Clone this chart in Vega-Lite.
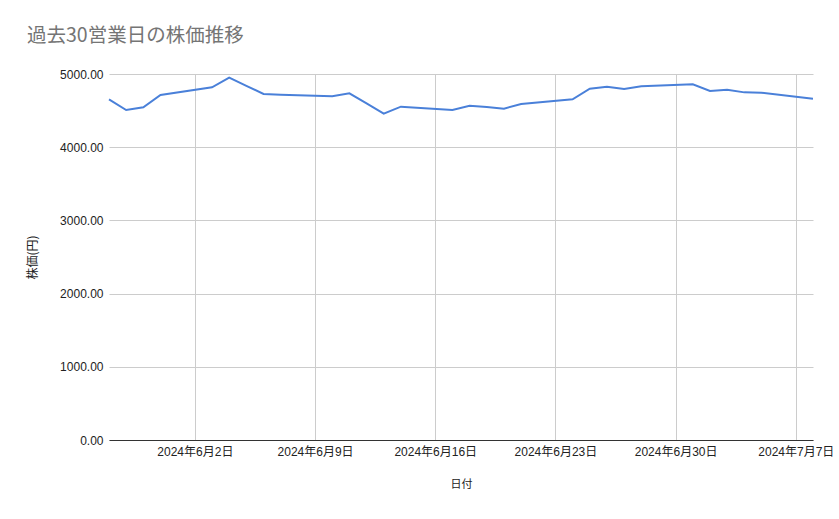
{
  "$schema": "https://vega.github.io/schema/vega-lite/v6.json",
  "width": 704,
  "height": 366,
  "autosize": {"type": "none"},
  "padding": {"left": 109, "top": 74, "right": 26, "bottom": 79},
  "background": "white",
  "config": {
    "font": "Liberation Sans, Noto Sans CJK JP",
    "view": {"stroke": null}
  },
  "title": {
    "text": "過去30営業日の株価推移",
    "anchor": "start",
    "frame": "group",
    "dx": -82,
    "offset": 22,
    "fontSize": 19.5,
    "fontWeight": "normal",
    "color": "#757575",
    "font": "Noto Sans CJK JP"
  },
  "data": {
    "values": [
      {"date": "2024/05/28", "price": 4654},
      {"date": "2024/05/29", "price": 4508},
      {"date": "2024/05/30", "price": 4545},
      {"date": "2024/05/31", "price": 4713},
      {"date": "2024/06/03", "price": 4818},
      {"date": "2024/06/04", "price": 4950},
      {"date": "2024/06/05", "price": 4838},
      {"date": "2024/06/06", "price": 4727},
      {"date": "2024/06/07", "price": 4717},
      {"date": "2024/06/10", "price": 4695},
      {"date": "2024/06/11", "price": 4736},
      {"date": "2024/06/12", "price": 4600},
      {"date": "2024/06/13", "price": 4458},
      {"date": "2024/06/14", "price": 4554},
      {"date": "2024/06/17", "price": 4508},
      {"date": "2024/06/18", "price": 4567},
      {"date": "2024/06/19", "price": 4549},
      {"date": "2024/06/20", "price": 4527},
      {"date": "2024/06/21", "price": 4590},
      {"date": "2024/06/24", "price": 4654},
      {"date": "2024/06/25", "price": 4800},
      {"date": "2024/06/26", "price": 4827},
      {"date": "2024/06/27", "price": 4795},
      {"date": "2024/06/28", "price": 4832},
      {"date": "2024/07/01", "price": 4859},
      {"date": "2024/07/02", "price": 4768},
      {"date": "2024/07/03", "price": 4786},
      {"date": "2024/07/04", "price": 4749},
      {"date": "2024/07/05", "price": 4745},
      {"date": "2024/07/08", "price": 4663}
    ]
  },
  "mark": {"type": "line", "color": "#4a80d9", "strokeWidth": 2},
  "encoding": {
    "x": {
      "field": "date",
      "type": "temporal",
      "scale": {
        "domain": [
          {"year": 2024, "month": 5, "date": 28},
          {"year": 2024, "month": 7, "date": 8}
        ],
        "nice": false
      },
      "axis": {
        "title": "日付",
        "titleFontSize": 11,
        "titleFontWeight": "normal",
        "titleColor": "#222222",
        "titlePadding": 21,
        "format": "%Y年%-m月%-d日",
        "tickCount": {"interval": "week", "step": 1},
        "labelFontSize": 12,
        "labelColor": "#222222",
        "labelPadding": 6,
        "ticks": false,
        "grid": true,
        "gridColor": "#cccccc",
        "domainColor": "#333333",
        "labelOverlap": false
      }
    },
    "y": {
      "field": "price",
      "type": "quantitative",
      "scale": {"domain": [0, 5000], "nice": false},
      "axis": {
        "title": "株価(円)",
        "titleFont": "Noto Sans CJK JP",
        "titleFontSize": 12,
        "titleFontWeight": "normal",
        "titleColor": "#222222",
        "titlePadding": 20,
        "format": ".2f",
        "values": [0, 1000, 2000, 3000, 4000, 5000],
        "labelFontSize": 12,
        "labelColor": "#222222",
        "labelPadding": 6,
        "ticks": false,
        "domain": false,
        "gridColor": "#cccccc"
      }
    }
  }
}
